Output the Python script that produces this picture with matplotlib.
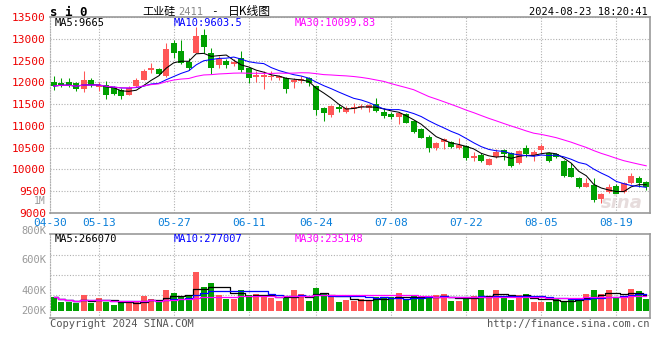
import numpy as np
import pandas as pd
import matplotlib
matplotlib.use('Agg')
import matplotlib.pyplot as plt

W, H = 660, 360

# trading days shown (2024-04-30 .. 2024-08-23, exchange holidays removed)
HOLIDAYS = ['2024-05-01', '2024-05-02', '2024-05-03', '2024-06-10']
TICK_DATES = ['04-30', '05-13', '05-27', '06-11', '06-24',
              '07-08', '07-22', '08-05', '08-19']

OPEN = [12000, 11985, 12000, 11975, 11840, 12055, 11900, 11945, 11870, 11815,
        11715, 11910, 12055, 12285, 12300, 12135, 12900, 12725, 12460, 12670,
        13090, 12665, 12400, 12480, 12410, 12550, 12320, 12115, 12115, 12125,
        12095, 12105, 12000, 12030, 12100, 11915, 11405, 11250, 11441, 11320,
        11380, 11425, 11405, 11500, 11325, 11270, 11210, 11265, 11120, 10920,
        10755, 10485, 10620, 10625, 10485, 10540, 10255, 10330, 10100, 10295,
        10445, 10385, 10140, 10485, 10330, 10445, 10385, 10355, 10200, 10025,
        9795, 9605, 9645, 9320, 9490, 9620, 9475, 9680, 9795, 9720]
HIGH = [12145, 12100, 12100, 12015, 12250, 12105, 12000, 12020, 11905, 11865,
        11915, 12090, 12300, 12445, 12320, 12900, 12980, 12980, 12550, 13280,
        13215, 12780, 12600, 12530, 12545, 12720, 12360, 12265, 12265, 12250,
        12170, 12130, 12105, 12145, 12115, 11915, 11425, 11480, 11495, 11460,
        11518, 11500, 11495, 11645, 11420, 11325, 11325, 11290, 11145, 10960,
        10790, 10640, 10715, 10655, 10715, 10560, 10410, 10370, 10255, 10470,
        10460, 10410, 10445, 10560, 10445, 10585, 10410, 10385, 10215, 10140,
        9820, 9795, 9795, 9450, 9665, 9660, 9720, 9925, 9850, 9730]
LOW = [11825, 11885, 11885, 11810, 11780, 11900, 11810, 11625, 11710, 11625,
       11710, 11900, 12050, 12225, 12170, 12130, 12550, 12415, 12285, 12665,
       12670, 12200, 12320, 12335, 12375, 12230, 11990, 12015, 11840, 12050,
       12060, 11760, 11860, 11975, 11910, 11250, 11120, 11212, 11326, 11290,
       11290, 11390, 11310, 11325, 11175, 11150, 11035, 11060, 10830, 10715,
       10410, 10445, 10460, 10485, 10470, 10215, 10195, 10180, 10100, 10270,
       10215, 10065, 10125, 10295, 10200, 10370, 10180, 10270, 9835, 9820,
       9565, 9590, 9260, 9240, 9465, 9415, 9450, 9665, 9605, 9530]
CLOSE = [11915, 11950, 11940, 11840, 12055, 11930, 11945, 11715, 11740, 11690,
         11880, 12065, 12265, 12335, 12200, 12765, 12680, 12445, 12320, 13065,
         12815, 12335, 12530, 12390, 12460, 12280, 12100, 12165, 12160, 12150,
         12150, 11840, 12060, 12080, 11975, 11370, 11290, 11464, 11388, 11420,
         11440, 11455, 11480, 11340, 11235, 11210, 11305, 11075, 10870, 10730,
         10485, 10600, 10700, 10525, 10560, 10255, 10315, 10195, 10240, 10410,
         10345, 10085, 10425, 10345, 10410, 10540, 10200, 10295, 9850, 9835,
         9605, 9695, 9300, 9435, 9605, 9435, 9680, 9850, 9680, 9605]
# volume in thousands of lots
VOLUME_K = [245, 163, 163, 146, 280, 146, 228, 163, 105, 146,
            158, 158, 263, 210, 158, 368, 315, 263, 263, 683,
            420, 490, 280, 210, 210, 368, 280, 298, 263, 228,
            175, 228, 368, 298, 175, 403, 315, 245, 158, 193,
            181, 216, 181, 251, 228, 251, 315, 193, 280, 228,
            228, 280, 298, 175, 175, 245, 263, 368, 245, 368,
            228, 193, 280, 298, 158, 158, 158, 210, 175, 193,
            228, 298, 368, 298, 368, 228, 263, 385, 350, 210]

PRICE_TICKS = [9000, 9500, 10000, 10500, 11000, 11500, 12000, 12500, 13000, 13500]
VOL_LABELS = ['800K', '600K', '400K', '200K']

RED = '#ff5757'
GREEN = '#00a000'
GRID = '#b0b0b0'
MONO = 'DejaVu Sans Mono'


def fx(x):
    return x / W


def fy(y):
    return 1 - y / H


def main():
    days = pd.bdate_range('2024-04-30', '2024-08-23')
    days = days[~days.isin(pd.to_datetime(HOLIDAYS))]
    labels = list(days.strftime('%m-%d'))
    tick_pos = [labels.index(d) for d in TICK_DATES]
    tick_pos[0] = -0.5

    df = pd.DataFrame({'open': OPEN, 'high': HIGH, 'low': LOW,
                       'close': CLOSE, 'vol': VOLUME_K})
    x = np.arange(len(df))
    up = df['close'] >= df['open']
    colors = np.where(up, RED, GREEN)

    fig = plt.figure(figsize=(W / 100, H / 100), dpi=100)
    ax = fig.add_axes([fx(50), fy(213), 600 / W, 196 / H])
    axv = fig.add_axes([fx(50), fy(318), 600 / W, 84 / H])

    # --- price panel
    ax.vlines(x, df['low'], df['high'], colors=colors, lw=0.75, zorder=3)
    body = (df['close'] - df['open']).abs().clip(lower=20)
    ax.bar(x, body, bottom=df[['open', 'close']].min(axis=1), width=0.75,
           color=colors, zorder=4)
    for n, c in [(5, 'black'), (10, '#0000ff'), (30, '#ff00ff')]:
        ma = df['close'].rolling(n, min_periods=1).mean()
        ax.plot(x, ma, color=c, lw=0.75, zorder=5)

    ax.set_xlim(-0.5, len(df) - 0.5)
    ax.set_ylim(9000, 13500)
    ax.set_yticks(PRICE_TICKS)
    ax.set_yticklabels([str(t) for t in PRICE_TICKS], fontfamily=MONO,
                       fontsize=8)
    ax.tick_params(axis='y', length=0, pad=3, labelcolor='#ee0000')
    ax.set_xticks(tick_pos)
    ax.set_xticklabels(TICK_DATES, fontfamily=MONO, fontsize=8)
    ax.tick_params(axis='x', length=0, pad=3.5, labelcolor='#0a7fd9')
    ax.grid(True, color=GRID, lw=0.8, ls=(0, (1, 1.5)))

    # --- volume panel
    axv.bar(x, df['vol'], width=0.8, color=colors, zorder=3)
    for n, c in [(5, 'black'), (10, '#0000ff'), (30, '#ff00ff')]:
        ma = df['vol'].rolling(n, min_periods=1).mean()
        axv.plot(x, ma, color=c, lw=0.9, drawstyle='steps-mid', zorder=4)
    axv.set_xlim(-0.5, len(df) - 0.5)
    axv.set_ylim(-122.5, 1347.5)
    axv.set_yticks([280, 630, 980])
    axv.set_xticks(tick_pos)
    axv.tick_params(length=0, labelleft=False, labelbottom=False)
    axv.grid(True, color=GRID, lw=0.8, ls=(0, (1, 1.5)))

    for a in (ax, axv):
        a.set_axisbelow(True)
        for s in ('top', 'right', 'bottom'):
            a.spines[s].set_color('#999999')
            a.spines[s].set_linewidth(1.2)
        a.spines['left'].set_color(GRID)
        a.spines['left'].set_linestyle((0, (1, 1.5)))

    # --- texts
    t = dict(fontfamily=MONO, fontsize=7.5, va='center')
    fig.text(fx(50), fy(12), 's i 0', fontfamily=MONO, fontsize=9,
             fontweight='bold', va='center')
    cjk = ['Noto Sans CJK SC', 'DejaVu Sans']
    fig.text(fx(142), fy(11), '工业硅', family=cjk, fontsize=8, va='center')
    fig.text(fx(178), fy(12), '2411', color='#888888', **t)
    fig.text(fx(214), fy(11), '-', fontfamily=MONO, fontsize=8, va='center',
             ha='center')
    fig.text(fx(228), fy(11), '日K线图', family=cjk, fontsize=8.5, va='center')
    fig.text(fx(648), fy(12), '2024-08-23 18:20:41', ha='right', **t)

    fig.text(fx(55), fy(23.5), 'MA5:9665', color='black', **t)
    fig.text(fx(174), fy(23.5), 'MA10:9603.5', color='#0000ff', **t)
    fig.text(fx(295), fy(23.5), 'MA30:10099.83', color='#ff00ff', **t)
    fig.text(fx(46), fy(201), '1M', color='#999999', ha='right',
             fontfamily=MONO, fontsize=7, va='center')

    for lab, yy in zip(VOL_LABELS, [231, 260, 291, 311]):
        fig.text(fx(46), fy(yy), lab, color='#999999', ha='right', **t)
    fig.text(fx(55), fy(238.5), 'MA5:266070', color='black', **t)
    fig.text(fx(174), fy(238.5), 'MA10:277007', color='#0000ff', **t)
    fig.text(fx(295), fy(238.5), 'MA30:235148', color='#ff00ff', **t)

    fig.text(fx(50), fy(324), 'Copyright 2024 SINA.COM', color='#555555', **t)
    fig.text(fx(649), fy(324), 'http://finance.sina.com.cn', color='#555555',
             ha='right', **t)
    fig.text(fx(622), fy(203), 'sina', color='#e6dcdc', fontsize=13,
             fontstyle='italic', fontweight='bold', ha='center', va='center',
             zorder=0)

    fig.savefig('out.png', dpi=100)


main()
